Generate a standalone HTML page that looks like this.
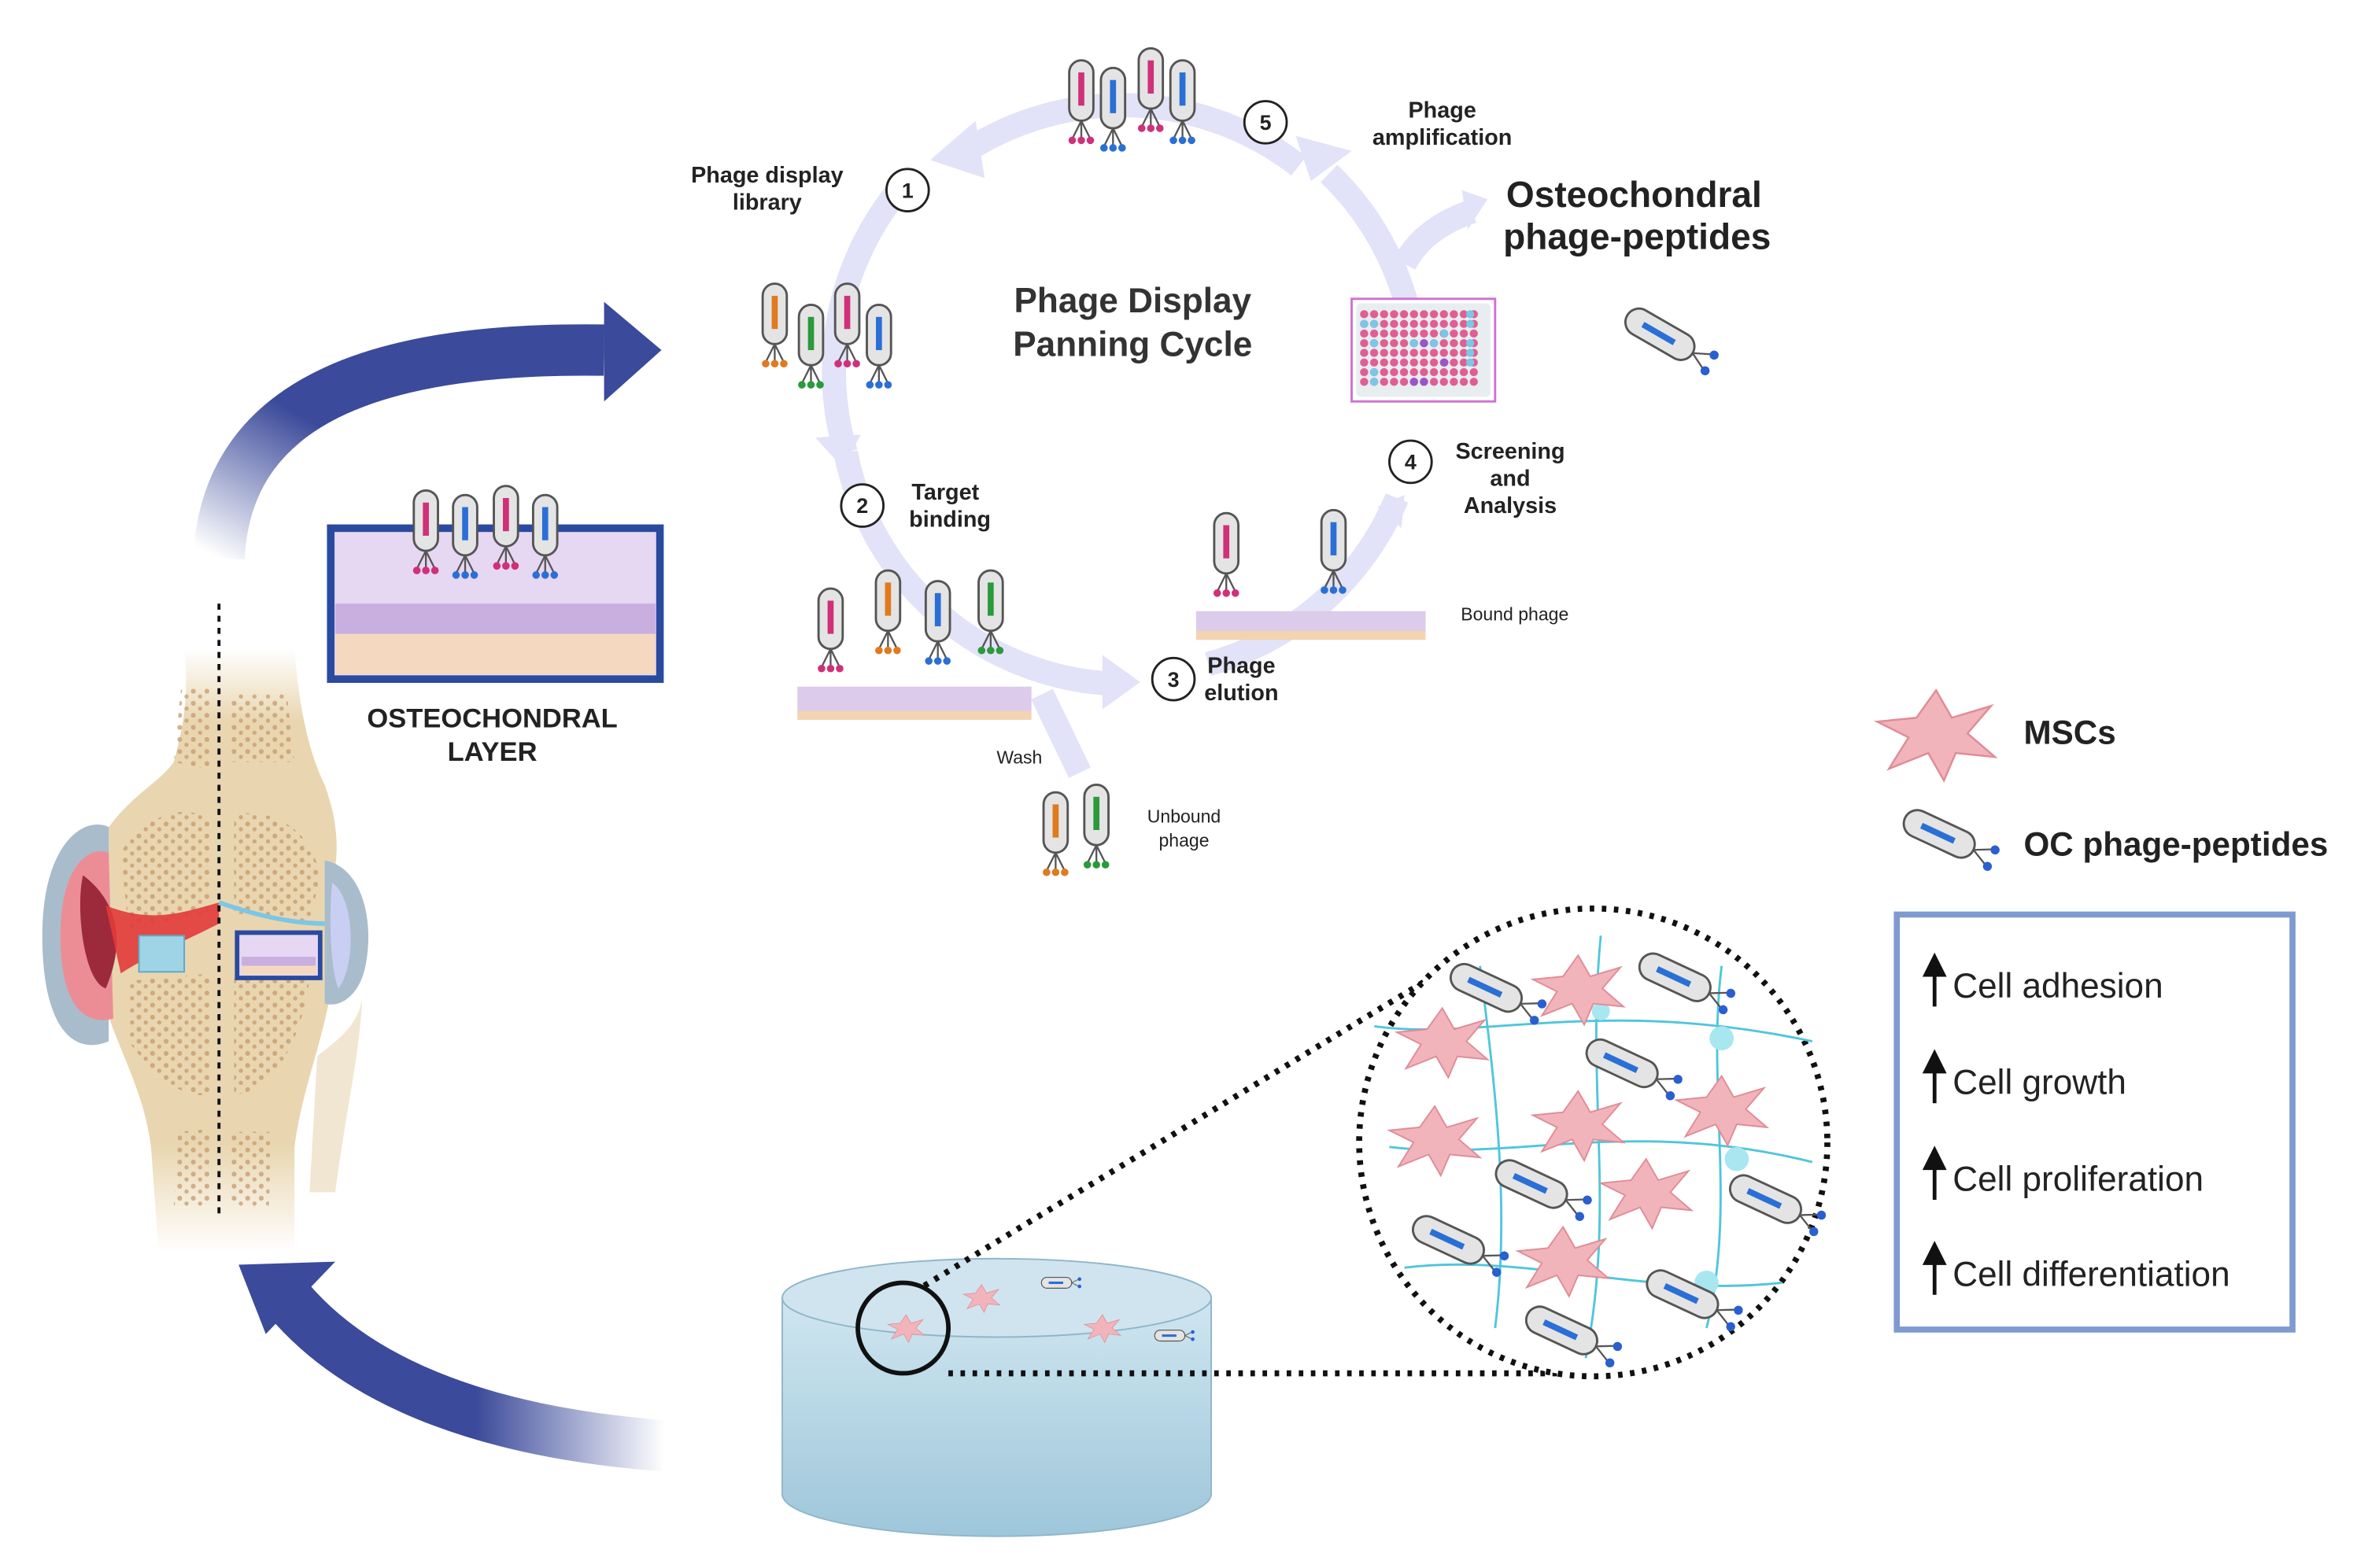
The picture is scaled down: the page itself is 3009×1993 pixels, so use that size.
<!DOCTYPE html>
<html><head><meta charset="utf-8"><style>
html,body{margin:0;padding:0;background:#fff;}
svg{display:block;}
text{font-family:"Liberation Sans",sans-serif;}
</style></head><body>
<svg width="3009" height="1993" viewBox="0 0 1568 1039" preserveAspectRatio="none" xmlns="http://www.w3.org/2000/svg">
<defs>
<linearGradient id="gUp" x1="0" y1="1" x2="1" y2="0">
<stop offset="0" stop-color="#3b4a9a" stop-opacity="0"/><stop offset="0.45" stop-color="#3b4a9a"/><stop offset="1" stop-color="#3b4a9a"/></linearGradient>
<linearGradient id="gDn" x1="1" y1="0" x2="0" y2="0">
<stop offset="0" stop-color="#3b4a9a" stop-opacity="0"/><stop offset="0.5" stop-color="#3b4a9a"/><stop offset="1" stop-color="#3b4a9a"/></linearGradient>
<linearGradient id="bone" x1="0" y1="0" x2="0" y2="1">
<stop offset="0" stop-color="#e9d6b0" stop-opacity="0"/><stop offset="0.12" stop-color="#e9d6b0"/><stop offset="0.82" stop-color="#e9d6b0"/><stop offset="1" stop-color="#e9d6b0" stop-opacity="0"/></linearGradient>
<linearGradient id="cyl" x1="0" y1="0" x2="0" y2="1">
<stop offset="0" stop-color="#cfe6f0"/><stop offset="1" stop-color="#9ec6da"/></linearGradient>
<pattern id="spots" width="9" height="8" patternUnits="userSpaceOnUse">
<circle cx="2" cy="2" r="1.6" fill="#c49a6e"/><circle cx="6.5" cy="5.5" r="1.4" fill="#c49a6e"/></pattern>
<pattern id="wells" width="6.6" height="6.4" patternUnits="userSpaceOnUse" x="900" y="205">
<circle cx="3.3" cy="3.2" r="2.7" fill="#df5f92"/></pattern>
<g id="ph">
<rect x="-8" y="-30" width="16" height="40" rx="8" fill="#e4e4e4" stroke="#555" stroke-width="1.5"/>
<rect x="-2" y="-22" width="4" height="22" fill="currentColor"/>
<path d="M0 10 L-6 22 M0 10 L6 22 M0 10 L0 22" stroke="#555" stroke-width="1.2" fill="none"/>
<circle cx="-6" cy="23" r="2.5" fill="currentColor"/><circle cx="6" cy="23" r="2.5" fill="currentColor"/><circle cx="0" cy="23" r="2.5" fill="currentColor"/>
</g>
<g id="phh">
<rect x="-26" y="-9" width="50" height="18" rx="9" fill="#e4e4e4" stroke="#555" stroke-width="1.5"/>
<rect x="-14" y="-2" width="24" height="4" fill="#2a6fd6"/>
<path d="M24 0 L36 -6 M24 0 L36 6" stroke="#555" stroke-width="1.2"/>
<circle cx="37" cy="-6" r="3" fill="#2a5fd0"/><circle cx="37" cy="6" r="3" fill="#2a5fd0"/>
</g>
<path id="msc" d="M0 -22 L8 -8 L28 -14 L16 0 L30 12 L10 10 L4 24 L-4 10 L-24 18 L-14 2 L-30 -6 L-10 -8 Z" fill="#f2b4bb" stroke="#e08c96" stroke-width="1"/>
</defs>

<!-- big arrows -->
<path d="M145 370 C150 260 260 230 400 232" stroke="url(#gUp)" stroke-width="34" fill="none"/>
<polygon points="400,200 438,232 400,266" fill="#3b4a9a"/>
<path d="M440 958 C330 950 240 920 190 860" stroke="url(#gDn)" stroke-width="34" fill="none"/>
<polygon points="158,838 222,836 176,884" fill="#3b4a9a"/>

<!-- cycle -->
<g stroke="#e2e2f8" stroke-width="16" fill="none">
<path d="M640 100 A190 190 0 0 1 860 110"/>
<path d="M600 120 A190 190 0 0 0 560 300"/>
<path d="M560 300 A190 190 0 0 0 735 453"/>
<path d="M800 440 A190 190 0 0 0 925 330"/>
<path d="M938 260 A190 190 0 0 0 880 115"/>
<path d="M690 460 L715 512"/>
<path d="M930 175 C940 155 960 145 975 140"/>
</g>
<polygon points="616,106 646,80 652,118" fill="#e2e2f8"/>
<polygon points="755,452 730,434 730,470" fill="#e2e2f8"/>
<polygon points="858,90 895,100 868,120" fill="#e2e2f8"/>
<polygon points="985,132 968,126 972,152" fill="#e2e2f8"/>
<polygon points="540,290 570,288 558,310" fill="#e2e2f8"/>
<polygon points="930,328 912,336 928,350" fill="#e2e2f8"/>

<text x="750" y="207" font-size="23" font-weight="bold" text-anchor="middle" fill="#333">Phage Display</text>
<text x="750" y="236" font-size="23" font-weight="bold" text-anchor="middle" fill="#333">Panning Cycle</text>
<text x="508" y="121" font-size="15" font-weight="bold" text-anchor="middle" fill="#222">Phage display</text>
<text x="508" y="139" font-size="15" font-weight="bold" text-anchor="middle" fill="#222">library</text>
<text x="955" y="78" font-size="15" font-weight="bold" text-anchor="middle" fill="#222">Phage</text>
<text x="955" y="96" font-size="15" font-weight="bold" text-anchor="middle" fill="#222">amplification</text>
<text x="1082" y="137" font-size="24" font-weight="bold" text-anchor="middle" fill="#222">Osteochondral</text>
<text x="1084" y="165" font-size="24" font-weight="bold" text-anchor="middle" fill="#222">phage-peptides</text>
<text x="626" y="331" font-size="15" font-weight="bold" text-anchor="middle" fill="#222">Target</text>
<text x="629" y="349" font-size="15" font-weight="bold" text-anchor="middle" fill="#222">binding</text>
<text x="1000" y="304" font-size="15" font-weight="bold" text-anchor="middle" fill="#222">Screening</text>
<text x="1000" y="322" font-size="15" font-weight="bold" text-anchor="middle" fill="#222">and</text>
<text x="1000" y="340" font-size="15" font-weight="bold" text-anchor="middle" fill="#222">Analysis</text>
<text x="822" y="446" font-size="15" font-weight="bold" text-anchor="middle" fill="#222">Phage</text>
<text x="822" y="464" font-size="15" font-weight="bold" text-anchor="middle" fill="#222">elution</text>
<text x="1003" y="411" font-size="12" text-anchor="middle" fill="#222">Bound phage</text>
<text x="675" y="506" font-size="12" text-anchor="middle" fill="#222">Wash</text>
<text x="784" y="545" font-size="12" text-anchor="middle" fill="#222">Unbound</text>
<text x="784" y="561" font-size="12" text-anchor="middle" fill="#222">phage</text>
<g font-size="14" font-weight="bold" text-anchor="middle" fill="#222" stroke="none">
<circle cx="601" cy="126" r="14" fill="#fff" stroke="#222" stroke-width="1.5"/><text x="601" y="131">1</text>
<circle cx="571" cy="335" r="14" fill="#fff" stroke="#222" stroke-width="1.5"/><text x="571" y="340">2</text>
<circle cx="777" cy="450" r="14" fill="#fff" stroke="#222" stroke-width="1.5"/><text x="777" y="455">3</text>
<circle cx="934" cy="306" r="14" fill="#fff" stroke="#222" stroke-width="1.5"/><text x="934" y="311">4</text>
<circle cx="838" cy="81" r="14" fill="#fff" stroke="#222" stroke-width="1.5"/><text x="838" y="86">5</text>
</g>

<!-- phages in cycle -->
<use href="#ph" x="716" y="70" color="#d0307a"/><use href="#ph" x="737" y="75" color="#2a6fd6"/><use href="#ph" x="762" y="62" color="#d0307a"/><use href="#ph" x="783" y="70" color="#2a6fd6"/>
<use href="#ph" x="513" y="218" color="#e07a20"/><use href="#ph" x="537" y="232" color="#2a9a3a"/><use href="#ph" x="561" y="218" color="#d0307a"/><use href="#ph" x="582" y="232" color="#2a6fd6"/>
<use href="#ph" x="699" y="555" color="#e07a20"/><use href="#ph" x="726" y="550" color="#2a9a3a"/>
<rect x="528" y="455" width="155" height="18" fill="#dccbea"/><rect x="528" y="471" width="155" height="6" fill="#f4d3b3"/>
<use href="#ph" x="550" y="420" color="#d0307a"/><use href="#ph" x="588" y="408" color="#e07a20"/><use href="#ph" x="621" y="415" color="#2a6fd6"/><use href="#ph" x="656" y="408" color="#2a9a3a"/>
<rect x="792" y="405" width="152" height="14" fill="#dccbea"/><rect x="792" y="418" width="152" height="6" fill="#f4d3b3"/>
<use href="#ph" x="812" y="370" color="#d0307a"/><use href="#ph" x="883" y="368" color="#2a6fd6"/>
<!-- plate -->
<rect x="895" y="198" width="95" height="68" fill="#fff" stroke="#d070d0" stroke-width="1.5"/>
<rect x="898" y="201" width="89" height="62" rx="3" fill="#e8eef0"/>
<rect x="900" y="205" width="79.2" height="51.2" fill="url(#wells)"/>
<g fill="#7cc6e6"><circle cx="973.5" cy="208.2" r="2.7"/><circle cx="903.3" cy="214.6" r="2.7"/><circle cx="909.9" cy="214.6" r="2.7"/><circle cx="973.5" cy="214.6" r="2.7"/><circle cx="956.4" cy="221" r="2.7"/><circle cx="909.9" cy="227.4" r="2.7"/><circle cx="936.3" cy="227.4" r="2.7"/><circle cx="949.5" cy="227.4" r="2.7"/><circle cx="973.5" cy="227.4" r="2.7"/><circle cx="973.5" cy="233.8" r="2.7"/><circle cx="973.5" cy="240.2" r="2.7"/><circle cx="909.9" cy="246.6" r="2.7"/><circle cx="909.9" cy="253" r="2.7"/></g>
<g fill="#9a55c8"><circle cx="942.9" cy="227.4" r="2.7"/><circle cx="956.4" cy="240.2" r="2.7"/><circle cx="936.3" cy="253" r="2.7"/><circle cx="942.9" cy="253" r="2.7"/></g>
<use href="#phh" x="1100" y="222" transform="rotate(30 1100 222)"/>

<!-- osteochondral layer -->
<rect x="219" y="350" width="218" height="100" fill="#e6d7f2" stroke="#2a4aa0" stroke-width="5"/>
<rect x="222" y="400" width="212" height="20" fill="#c9aee0"/>
<rect x="222" y="420" width="212" height="27" fill="#f4d9c0"/>
<use href="#ph" x="282" y="355" color="#d0307a"/><use href="#ph" x="308" y="358" color="#2a6fd6"/><use href="#ph" x="335" y="352" color="#d0307a"/><use href="#ph" x="361" y="358" color="#2a6fd6"/>
<text x="326" y="482" font-size="18" font-weight="bold" text-anchor="middle" fill="#222">OSTEOCHONDRAL</text>
<text x="326" y="504" font-size="18" font-weight="bold" text-anchor="middle" fill="#222">LAYER</text>

<!-- knee -->
<path d="M205 790 L210 700 C222 690 238 680 240 660 C238 700 230 730 222 790 Z" fill="#efe3cc" opacity="0.9"/>
<path d="M105 830 L100 760 C95 720 75 690 68 660 L65 560 C80 530 105 520 115 505 C122 480 125 460 122 430 L195 430 C198 470 205 500 215 520 C222 540 226 560 220 585 L222 640 C215 690 200 720 195 760 L195 830 Z" fill="url(#bone)"/>
<path d="M80 565 C95 540 125 530 140 545 L140 605 L85 615 Z M155 540 C175 535 205 545 212 580 L205 612 L155 605 Z M85 650 L140 645 L140 725 C120 730 100 710 85 690 Z M155 648 L205 648 C200 690 180 725 155 725 Z M118 750 L140 748 L140 800 L115 800 Z M152 750 L180 750 L178 800 L152 800 Z M120 455 L140 455 L140 510 L115 505 Z M152 460 L190 460 L195 505 L152 505 Z" fill="url(#spots)" opacity="0.75"/>
<path d="M28 620 C28 560 55 540 72 548 L72 690 C48 700 28 680 28 620Z" fill="#a9bccb"/>
<path d="M40 620 C40 575 58 560 72 565 L75 675 C55 680 40 665 40 620Z" fill="#ec8d96"/>
<path d="M55 580 C75 595 85 620 70 655 C55 650 50 600 55 580Z" fill="#9c2a3a"/>
<path d="M70 600 C100 612 120 605 145 598 L145 612 C120 625 100 632 80 645 Z" fill="#e23a3a" opacity="0.9"/>
<path d="M215 570 C240 575 248 610 242 640 C238 660 225 668 215 665 Z" fill="#a9bccb"/>
<path d="M220 585 C235 595 236 640 224 655 C218 640 218 600 220 585Z" fill="#c8cff2"/>
<path d="M145 598 C165 605 190 612 215 612" stroke="#7cc6e6" stroke-width="3" fill="none"/>
<rect x="92" y="620" width="30" height="24" fill="#9fd3e6" stroke="#60a8c8"/>
<rect x="157" y="618" width="55" height="30" fill="#e6d7f2" stroke="#2a4aa0" stroke-width="3"/>
<rect x="160" y="634" width="49" height="6" fill="#c9aee0"/><rect x="160" y="640" width="49" height="6" fill="#f4d9c0"/>
<line x1="145" y1="400" x2="145" y2="808" stroke="#111" stroke-width="2" stroke-dasharray="4 4"/>

<!-- cylinder -->
<path d="M518 860 L518 990 A142 28 0 0 0 802 990 L802 860 Z" fill="url(#cyl)" stroke="#8fb6c9"/>
<ellipse cx="660" cy="860" rx="142" ry="26" fill="#cfe4ee" stroke="#8fb6c9"/>
<g transform="translate(600 880) scale(0.4)"><use href="#msc"/></g>
<g transform="translate(650 860) scale(0.4)"><use href="#msc"/></g>
<g transform="translate(730 880) scale(0.4)"><use href="#msc"/></g>
<g transform="translate(700 850) scale(0.4)"><use href="#phh"/></g>
<g transform="translate(775 885) scale(0.4)"><use href="#phh"/></g>
<circle cx="598" cy="880" r="30" fill="none" stroke="#111" stroke-width="3"/>
<line x1="612" y1="852" x2="990" y2="622" stroke="#111" stroke-width="4" stroke-dasharray="3 5"/>
<line x1="628" y1="910" x2="1035" y2="910" stroke="#111" stroke-width="4" stroke-dasharray="3 5"/>

<!-- zoom circle -->
<circle cx="1055" cy="757" r="155" fill="#fff" stroke="#111" stroke-width="4" stroke-dasharray="3 5"/>
<g stroke="#4fc6dc" stroke-width="1.5" fill="none">
<path d="M910 680 C980 690 1060 660 1200 690"/><path d="M920 760 C1000 770 1080 740 1200 770"/><path d="M930 840 C1010 830 1090 860 1180 850"/>
<path d="M980 640 C990 720 1000 800 990 880"/><path d="M1060 620 C1050 720 1070 800 1050 900"/><path d="M1140 640 C1130 720 1150 800 1130 880"/>
</g>
<g fill="#a8e6f0"><circle cx="1140" cy="688" r="8"/><circle cx="1150" cy="768" r="8"/><circle cx="1130" cy="850" r="8"/><circle cx="1060" cy="670" r="6"/></g>
<use href="#msc" x="1045" y="655"/><use href="#msc" x="955" y="690"/><use href="#msc" x="1045" y="745"/><use href="#msc" x="950" y="755"/><use href="#msc" x="1140" y="735"/><use href="#msc" x="1090" y="790"/><use href="#msc" x="1035" y="835"/>
<use href="#phh" x="985" y="655" transform="rotate(25 985 655)"/><use href="#phh" x="1110" y="648" transform="rotate(25 1110 648)"/><use href="#phh" x="1075" y="705" transform="rotate(25 1075 705)"/><use href="#phh" x="1015" y="785" transform="rotate(25 1015 785)"/><use href="#phh" x="1170" y="795" transform="rotate(25 1170 795)"/><use href="#phh" x="960" y="822" transform="rotate(25 960 822)"/><use href="#phh" x="1115" y="858" transform="rotate(25 1115 858)"/><use href="#phh" x="1035" y="882" transform="rotate(25 1035 882)"/>

<!-- legend -->
<g transform="translate(1282 486) scale(1.3)"><use href="#msc"/></g>
<text x="1340" y="493" font-size="22" font-weight="bold" fill="#222">MSCs</text>
<use href="#phh" x="1285" y="553" transform="rotate(25 1285 553)"/>
<text x="1340" y="567" font-size="22" font-weight="bold" fill="#222">OC phage-peptides</text>
<rect x="1256" y="606" width="262" height="275" fill="#fff" stroke="#7f9ad0" stroke-width="4"/>
<g font-size="23" fill="#222">
<text x="1293" y="661">Cell adhesion</text>
<text x="1293" y="725">Cell growth</text>
<text x="1293" y="789">Cell proliferation</text>
<text x="1293" y="852">Cell differentiation</text>
</g>
<g stroke="#111" stroke-width="2.5" fill="#111">
<line x1="1281" y1="667" x2="1281" y2="643"/><polygon points="1275,646 1281,634 1287,646"/>
<line x1="1281" y1="731" x2="1281" y2="707"/><polygon points="1275,710 1281,698 1287,710"/>
<line x1="1281" y1="795" x2="1281" y2="771"/><polygon points="1275,774 1281,762 1287,774"/>
<line x1="1281" y1="858" x2="1281" y2="834"/><polygon points="1275,837 1281,825 1287,837"/>
</g>
</svg>
</body></html>
